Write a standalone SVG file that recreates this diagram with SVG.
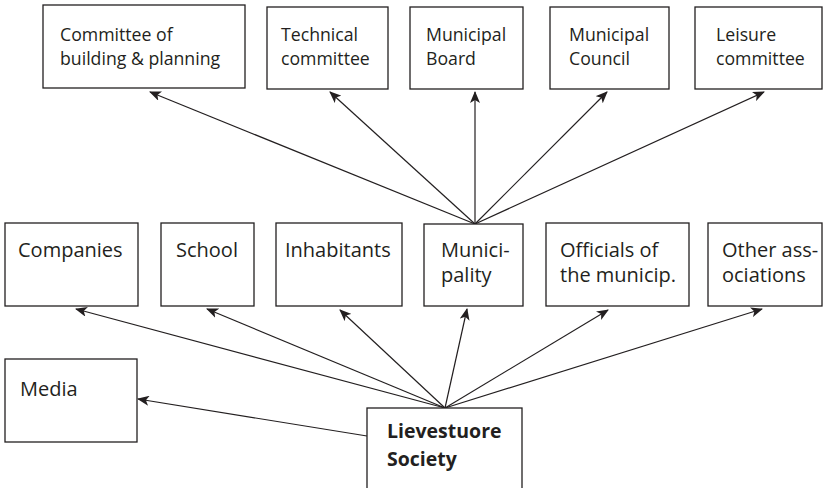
<svg xmlns="http://www.w3.org/2000/svg" width="824" height="488" viewBox="0 0 824 488">
<defs>
<style>
.box{fill:#fff;stroke:#231f20;stroke-width:1.3}
.t{font-family:"Open Sans",sans-serif;font-size:17.7px;fill:#231f20}
.m{font-family:"Open Sans",sans-serif;font-size:20px;fill:#231f20}
.b{font-family:"Open Sans",sans-serif;font-size:19.5px;font-weight:bold;fill:#231f20}
.c{stroke:#231f20;stroke-width:1.2;fill:none;marker-end:url(#ah)}
</style>
<marker id="ah" viewBox="0 0 12 10" refX="11" refY="5" markerWidth="12" markerHeight="10" markerUnits="userSpaceOnUse" orient="auto">
<path d="M0,0 L12,5 L0,10 L3,5 z" fill="#231f20"/>
</marker>
</defs>
<rect width="824" height="488" fill="#fff"/>
<g id="connectors">
<line class="c" x1="475" y1="224" x2="150" y2="92"/>
<line class="c" x1="475" y1="224" x2="330" y2="92"/>
<line class="c" x1="475" y1="224" x2="475" y2="92"/>
<line class="c" x1="475" y1="224" x2="607" y2="92"/>
<line class="c" x1="475" y1="224" x2="764" y2="92"/>
<line class="c" x1="445" y1="408" x2="76" y2="309"/>
<line class="c" x1="445" y1="408" x2="207" y2="309"/>
<line class="c" x1="445" y1="408" x2="340" y2="310"/>
<line class="c" x1="445" y1="408" x2="467" y2="309"/>
<line class="c" x1="445" y1="408" x2="608" y2="310"/>
<line class="c" x1="445" y1="408" x2="762" y2="309"/>
<line class="c" x1="367" y1="436" x2="138" y2="399"/>
</g>
<g id="n-building">
<rect class="box" x="43" y="5" width="202" height="83"/>
<text class="t" x="60" y="41">Committee of</text>
<text class="t" x="60" y="65">building &amp; planning</text>
</g>
<g id="n-technical">
<rect class="box" x="267" y="7" width="121" height="82"/>
<text class="t" x="281" y="41">Technical</text>
<text class="t" x="281" y="65">committee</text>
</g>
<g id="n-board">
<rect class="box" x="410" y="7" width="113" height="82"/>
<text class="t" x="426" y="41">Municipal</text>
<text class="t" x="426" y="65">Board</text>
</g>
<g id="n-council">
<rect class="box" x="550" y="7" width="119" height="82"/>
<text class="t" x="569" y="41">Municipal</text>
<text class="t" x="569" y="65">Council</text>
</g>
<g id="n-leisure">
<rect class="box" x="695" y="7" width="127" height="82"/>
<text class="t" x="716" y="41">Leisure</text>
<text class="t" x="716" y="65">committee</text>
</g>
<g id="n-companies">
<rect class="box" x="5" y="223" width="133" height="83"/>
<text class="m" x="18" y="257">Companies</text>
</g>
<g id="n-school">
<rect class="box" x="161" y="223" width="93" height="83"/>
<text class="m" x="176" y="257">School</text>
</g>
<g id="n-inhabitants">
<rect class="box" x="276" y="223" width="126" height="83"/>
<text class="m" x="285" y="257">Inhabitants</text>
</g>
<g id="n-municipality">
<rect class="box" x="424" y="224" width="99" height="82"/>
<text class="m" x="441" y="257">Munici-</text>
<text class="m" x="441" y="282">pality</text>
</g>
<g id="n-officials">
<rect class="box" x="546" y="223" width="143" height="83"/>
<text class="m" x="560" y="257">Officials of</text>
<text class="m" x="560" y="282">the municip.</text>
</g>
<g id="n-other">
<rect class="box" x="708" y="223" width="114" height="83"/>
<text class="m" x="722" y="257">Other ass-</text>
<text class="m" x="722" y="282">ociations</text>
</g>
<g id="n-media">
<rect class="box" x="5" y="359" width="132" height="83"/>
<text class="m" x="20" y="396">Media</text>
</g>
<g id="n-society">
<rect class="box" x="367" y="408" width="155" height="90"/>
<text class="b" x="387" y="438">Lievestuore</text>
<text class="b" x="387" y="466">Society</text>
</g>
</svg>
